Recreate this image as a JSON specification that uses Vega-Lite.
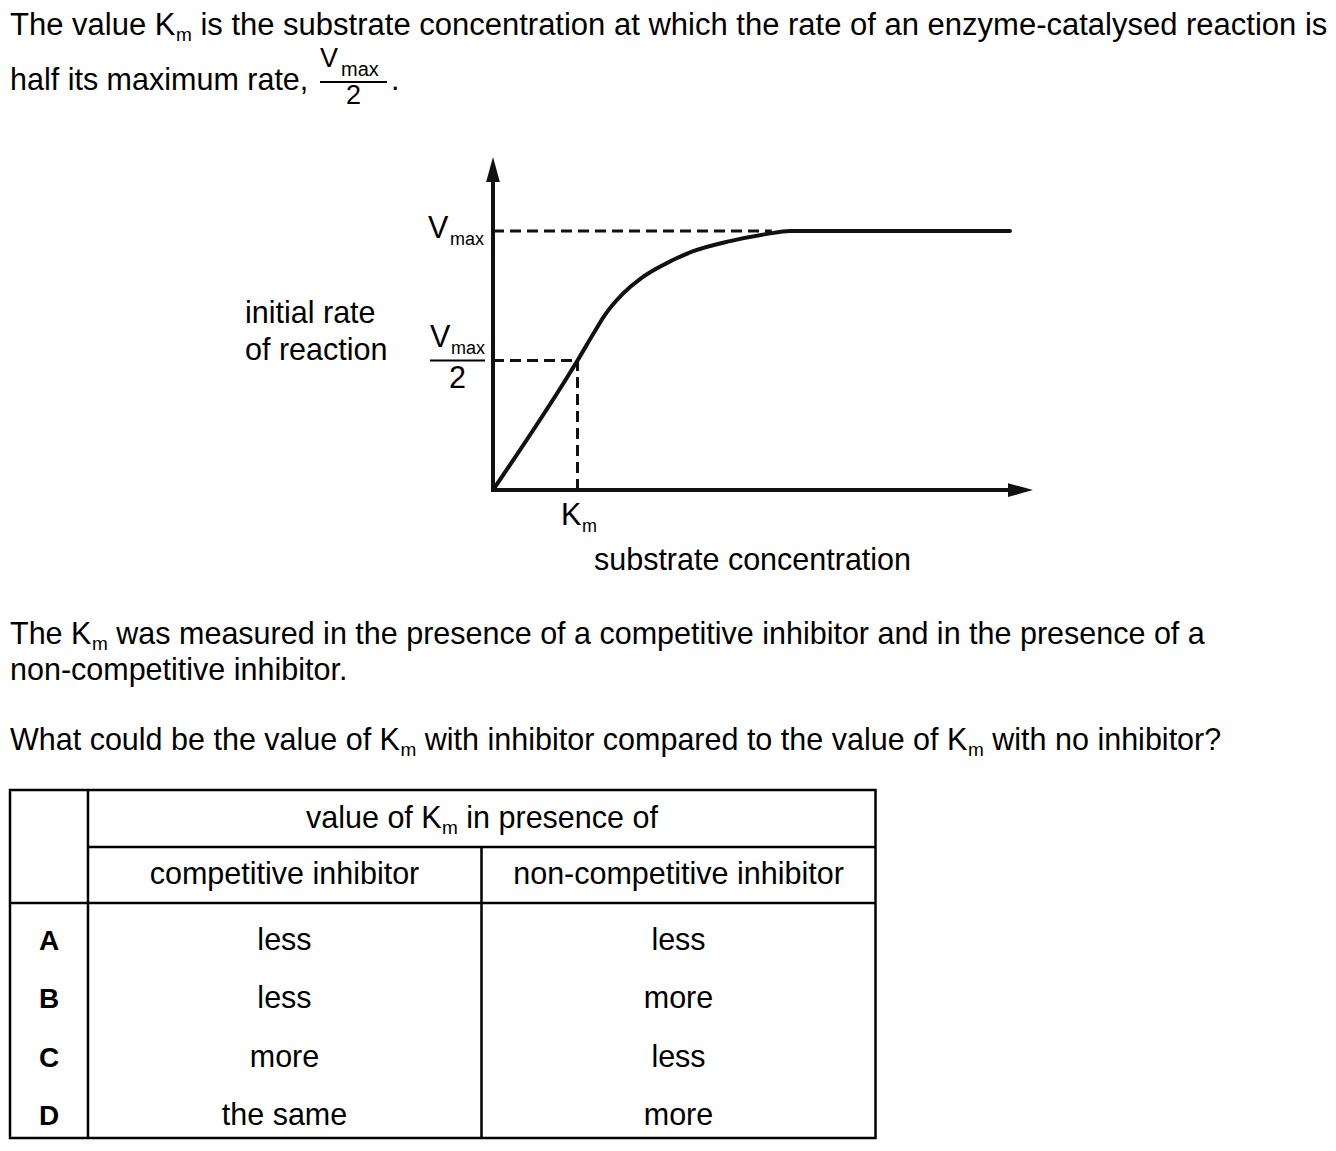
{
  "$schema": "https://vega.github.io/schema/vega-lite/v6.json",
  "width": 1336,
  "height": 1151,
  "padding": 0,
  "autosize": {"type": "none"},
  "background": "#ffffff",
  "config": {
    "view": {"stroke": null},
    "axis": {"disable": true},
    "text": {"font": "Liberation Sans", "fontSize": 30.5, "baseline": "alphabetic", "align": "left", "color": "#000000"}
  },
  "data": {"values": [{}]},
  "resolve": {"scale": {"y": "independent"}},
  "layer": [
    {
      "layer": [
        {
          "data": {"values": [
            {"substrate": 0, "rate": 0},
            {"substrate": 1.0, "rate": 0.5},
            {"substrate": 1.2, "rate": 0.61},
            {"substrate": 1.325, "rate": 0.676},
            {"substrate": 1.538, "rate": 0.758},
            {"substrate": 1.751, "rate": 0.817},
            {"substrate": 1.964, "rate": 0.86},
            {"substrate": 2.379, "rate": 0.923},
            {"substrate": 2.805, "rate": 0.961},
            {"substrate": 3.231, "rate": 0.988},
            {"substrate": 3.515, "rate": 1.0},
            {"substrate": 6.118, "rate": 1.0}
          ]},
          "mark": {"type": "line", "interpolate": "monotone", "strokeWidth": 4, "color": "#111111", "strokeCap": "round"},
          "encoding": {
            "x": {"field": "substrate", "type": "quantitative", "scale": {"domain": [-5.83432, 9.97633], "nice": false, "zero": false}, "axis": null},
            "y": {"field": "rate", "type": "quantitative", "scale": {"domain": [-2.55212, 1.89189], "nice": false, "zero": false}, "axis": null}
          }
        },
        {"mark": {"type": "rule", "strokeWidth": 4, "color": "#111111", "strokeCap": "square"},
         "encoding": {"x": {"datum": 0}, "y": {"datum": 0}, "y2": {"datum": 1.2375}}},
        {"mark": {"type": "rule", "strokeWidth": 4, "color": "#111111", "strokeCap": "square"},
         "encoding": {"x": {"datum": 0}, "x2": {"datum": 6.2426}, "y": {"datum": 0}}},
        {"mark": {"type": "point", "shape": "M0,-1L0.55,1L-0.55,1Z", "filled": true, "size": 625, "color": "#111111", "opacity": 1, "strokeWidth": 0},
         "encoding": {"x": {"datum": 0}, "y": {"datum": 1.2375}}},
        {"mark": {"type": "point", "shape": "M1,0L-1,-0.55L-1,0.55Z", "filled": true, "size": 625, "color": "#111111", "opacity": 1, "strokeWidth": 0},
         "encoding": {"x": {"datum": 6.2426}, "y": {"datum": 0}}},
        {"mark": {"type": "rule", "strokeWidth": 3, "color": "#111111", "strokeDash": [11, 6]},
         "encoding": {"x": {"datum": 0}, "x2": {"datum": 3.3}, "y": {"datum": 1}}},
        {"mark": {"type": "rule", "strokeWidth": 3, "color": "#111111", "strokeDash": [11, 6]},
         "encoding": {"x": {"datum": 0}, "x2": {"datum": 1}, "y": {"datum": 0.5}}},
        {"mark": {"type": "rule", "strokeWidth": 3, "color": "#111111", "strokeDash": [11, 6]},
         "encoding": {"x": {"datum": 1}, "y": {"datum": 0}, "y2": {"datum": 0.5}}},
        {"mark": {"type": "rule", "strokeWidth": 2, "color": "#000000"},
         "encoding": {"x": {"datum": -0.7456}, "x2": {"datum": -0.0947}, "y": {"datum": 0.5}}},
        {"mark": {"type": "rule", "strokeWidth": 2, "color": "#000000"},
         "encoding": {"x": {"datum": -2.0473}, "x2": {"datum": -1.2544}, "y": {"datum": 1.5753}}},
        {"mark": {"type": "rect", "filled": false, "color": "#000000", "strokeWidth": 2.5},
         "encoding": {"x": {"datum": -5.716}, "x2": {"datum": 4.5266}, "y": {"datum": -1.1583}, "y2": {"datum": -2.5019}}},
        {"mark": {"type": "rule", "strokeWidth": 2.5, "color": "#000000"},
         "encoding": {"x": {"datum": -4.7929}, "y": {"datum": -1.1583}, "y2": {"datum": -2.5019}}},
        {"mark": {"type": "rule", "strokeWidth": 2.5, "color": "#000000"},
         "encoding": {"x": {"datum": -0.1361}, "y": {"datum": -1.3784}, "y2": {"datum": -2.5019}}},
        {"mark": {"type": "rule", "strokeWidth": 2.5, "color": "#000000"},
         "encoding": {"x": {"datum": -4.7929}, "x2": {"datum": 4.5266}, "y": {"datum": -1.3784}}},
        {"mark": {"type": "rule", "strokeWidth": 2.5, "color": "#000000"},
         "encoding": {"x": {"datum": -5.716}, "x2": {"datum": 4.5266}, "y": {"datum": -1.5946}}},

        {"mark": {"type": "text", "fontSize": 31}, "encoding": {"x": {"datum": -5.716}, "y": {"datum": 1.7568}, "text": {"value": "The value K"}}},
        {"mark": {"type": "text", "fontSize": 19}, "encoding": {"x": {"datum": -3.7515}, "y": {"datum": 1.7355}, "text": {"value": "m"}}},
        {"mark": {"type": "text", "fontSize": 31}, "encoding": {"x": {"datum": -3.4627}, "y": {"datum": 1.7568}, "text": {"value": "is the substrate concentration at which the rate of an enzyme-catalysed reaction is"}}},
        {"mark": {"type": "text"}, "encoding": {"x": {"datum": -5.716}, "y": {"datum": 1.5444}, "text": {"value": "half its maximum rate,"}}},
        {"mark": {"type": "text", "fontSize": 27}, "encoding": {"x": {"datum": -2.0473}, "y": {"datum": 1.6332}, "text": {"value": "V"}}},
        {"mark": {"type": "text", "fontSize": 20}, "encoding": {"x": {"datum": -1.7988}, "y": {"datum": 1.5985}, "text": {"value": "max"}}},
        {"mark": {"type": "text", "fontSize": 27, "align": "center"}, "encoding": {"x": {"datum": -1.6509}, "y": {"datum": 1.4903}, "text": {"value": "2"}}},
        {"mark": {"type": "text"}, "encoding": {"x": {"datum": -1.2071}, "y": {"datum": 1.5444}, "text": {"value": "."}}},

        {"mark": {"type": "text"}, "encoding": {"x": {"datum": -0.7692}, "y": {"datum": 0.973}, "text": {"value": "V"}}},
        {"mark": {"type": "text", "fontSize": 18}, "encoding": {"x": {"datum": -0.5089}, "y": {"datum": 0.9459}, "text": {"value": "max"}}},
        {"mark": {"type": "text"}, "encoding": {"x": {"datum": -2.9349}, "y": {"datum": 0.6448}, "text": {"value": "initial rate"}}},
        {"mark": {"type": "text"}, "encoding": {"x": {"datum": -2.9349}, "y": {"datum": 0.5019}, "text": {"value": "of reaction"}}},
        {"mark": {"type": "text"}, "encoding": {"x": {"datum": -0.7456}, "y": {"datum": 0.5502}, "text": {"value": "V"}}},
        {"mark": {"type": "text", "fontSize": 18}, "encoding": {"x": {"datum": -0.497}, "y": {"datum": 0.527}, "text": {"value": "max"}}},
        {"mark": {"type": "text", "align": "center"}, "encoding": {"x": {"datum": -0.4201}, "y": {"datum": 0.3919}, "text": {"value": "2"}}},
        {"mark": {"type": "text"}, "encoding": {"x": {"datum": 0.8047}, "y": {"datum": -0.1351}, "text": {"value": "K"}}},
        {"mark": {"type": "text", "fontSize": 18}, "encoding": {"x": {"datum": 1.0533}, "y": {"datum": -0.1622}, "text": {"value": "m"}}},
        {"mark": {"type": "text", "align": "center"}, "encoding": {"x": {"datum": 3.071}, "y": {"datum": -0.3089}, "text": {"value": "substrate concentration"}}},

        {"mark": {"type": "text"}, "encoding": {"x": {"datum": -5.716}, "y": {"datum": -0.5946}, "text": {"value": "The K"}}},
        {"mark": {"type": "text", "fontSize": 19}, "encoding": {"x": {"datum": -4.7456}, "y": {"datum": -0.6178}, "text": {"value": "m"}}},
        {"mark": {"type": "text"}, "encoding": {"x": {"datum": -4.458}, "y": {"datum": -0.5946}, "text": {"value": "was measured in the presence of a competitive inhibitor and in the presence of a"}}},
        {"mark": {"type": "text"}, "encoding": {"x": {"datum": -5.716}, "y": {"datum": -0.7336}, "text": {"value": "non-competitive inhibitor."}}},
        {"mark": {"type": "text"}, "encoding": {"x": {"datum": -5.716}, "y": {"datum": -1.0039}, "text": {"value": "What could be the value of K"}}},
        {"mark": {"type": "text", "fontSize": 19}, "encoding": {"x": {"datum": -1.0947}, "y": {"datum": -1.027}, "text": {"value": "m"}}},
        {"mark": {"type": "text"}, "encoding": {"x": {"datum": -0.8071}, "y": {"datum": -1.0039}, "text": {"value": "with inhibitor compared to the value of K"}}},
        {"mark": {"type": "text", "fontSize": 19}, "encoding": {"x": {"datum": 5.6213}, "y": {"datum": -1.027}, "text": {"value": "m"}}},
        {"mark": {"type": "text"}, "encoding": {"x": {"datum": 5.9089}, "y": {"datum": -1.0039}, "text": {"value": "with no inhibitor?"}}},

        {"mark": {"type": "text"}, "encoding": {"x": {"datum": -2.213}, "y": {"datum": -1.305}, "text": {"value": "value of K"}}},
        {"mark": {"type": "text", "fontSize": 19}, "encoding": {"x": {"datum": -0.6036}, "y": {"datum": -1.3282}, "text": {"value": "m"}}},
        {"mark": {"type": "text"}, "encoding": {"x": {"datum": -0.316}, "y": {"datum": -1.305}, "text": {"value": "in presence of"}}},
        {"mark": {"type": "text", "align": "center"}, "encoding": {"x": {"datum": -2.4675}, "y": {"datum": -1.5212}, "text": {"value": "competitive inhibitor"}}},
        {"mark": {"type": "text", "align": "center"}, "encoding": {"x": {"datum": 2.1953}, "y": {"datum": -1.5212}, "text": {"value": "non-competitive inhibitor"}}}
      ]
    },
    {
      "data": {"values": [
        {"option": "A", "competitive": "less", "noncompetitive": "less"},
        {"option": "B", "competitive": "less", "noncompetitive": "more"},
        {"option": "C", "competitive": "more", "noncompetitive": "less"},
        {"option": "D", "competitive": "the same", "noncompetitive": "more"}
      ]},
      "encoding": {
        "y": {"field": "option", "type": "ordinal", "scale": {"type": "point", "domain": ["A", "B", "C", "D"], "range": [950.3, 1124.7], "padding": 0}, "axis": null}
      },
      "layer": [
        {"mark": {"type": "text", "align": "center", "fontSize": 28, "fontWeight": "bold"},
         "encoding": {"x": {"datum": -5.2544}, "text": {"field": "option"}}},
        {"mark": {"type": "text", "align": "center"},
         "encoding": {"x": {"datum": -2.4675}, "text": {"field": "competitive"}}},
        {"mark": {"type": "text", "align": "center"},
         "encoding": {"x": {"datum": 2.1953}, "text": {"field": "noncompetitive"}}}
      ]
    }
  ]
}
